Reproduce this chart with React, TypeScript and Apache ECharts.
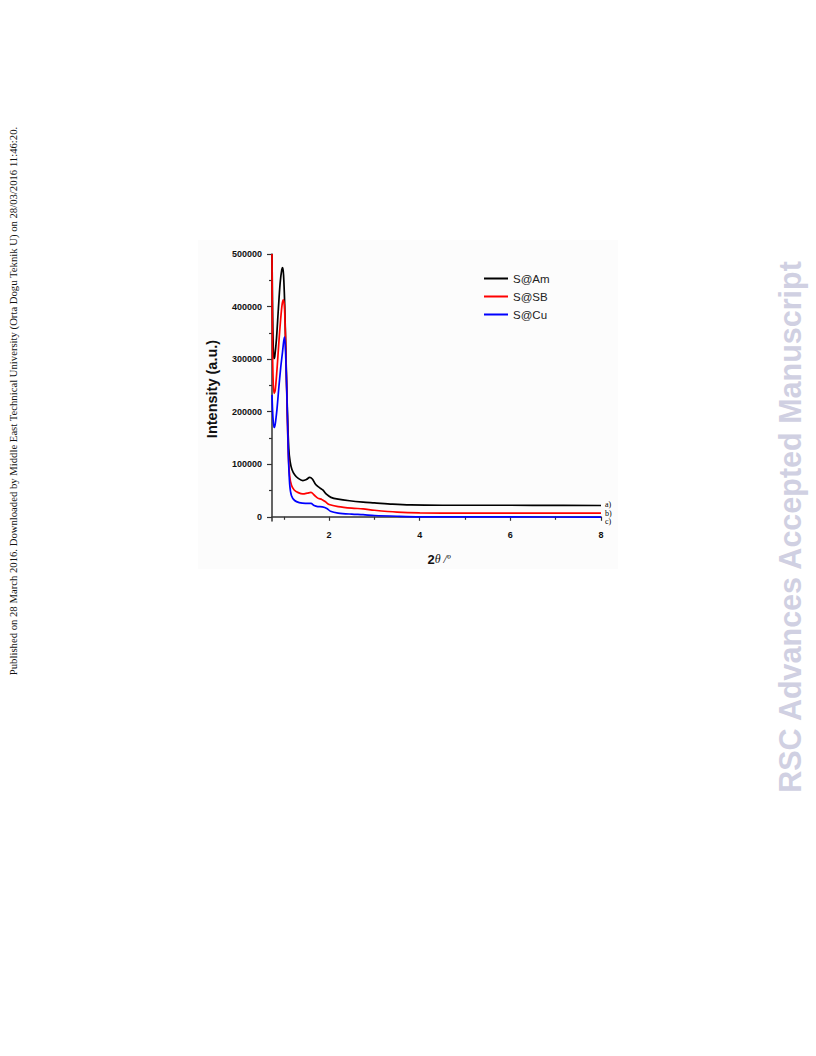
import React, { useEffect, useRef } from "react";
import * as echarts from "echarts";

const seriesNames = ["S@Am", "S@SB", "S@Cu"];
const endTags = ["a)", "b)", "c)"];

const amData: [number, number][] = [
  [0.74, 500000], [0.755, 380000], [0.77, 315000], [0.785, 301000], [0.80, 304000],
  [0.84, 340000], [0.88, 395000], [0.92, 445000], [0.955, 470000], [0.975, 474000],
  [0.995, 460000], [1.02, 405000], [1.05, 300000], [1.08, 200000], [1.11, 130000],
  [1.14, 105000], [1.18, 90000], [1.24, 80000], [1.32, 73000], [1.42, 69000],
  [1.5, 71000], [1.57, 75000], [1.63, 72000], [1.7, 62000], [1.78, 56000],
  [1.86, 51000], [1.94, 43000], [2.04, 37000], [2.2, 33500], [2.45, 30500],
  [2.75, 28000], [3.0, 26500], [3.4, 24000], [3.8, 22500], [4.5, 22000],
  [5.5, 22000], [6.5, 21800], [8.0, 21500],
];

const sbData: [number, number][] = [
  [0.74, 500000], [0.75, 330000], [0.765, 260000], [0.785, 235000], [0.81, 240000],
  [0.85, 280000], [0.89, 330000], [0.93, 375000], [0.965, 405000], [0.99, 413000],
  [1.015, 400000], [1.04, 330000], [1.07, 220000], [1.10, 120000], [1.13, 78000],
  [1.17, 60000], [1.23, 51000], [1.32, 46000], [1.42, 43500], [1.52, 45000],
  [1.6, 46500], [1.67, 41500], [1.75, 35500], [1.84, 33000], [1.92, 28500],
  [2.0, 23500], [2.2, 19500], [2.5, 16500], [2.75, 15000], [3.0, 12500],
  [3.5, 9000], [4.0, 7500], [5.0, 7000], [6.0, 7000], [8.0, 7000],
];

const cuData: [number, number][] = [
  [0.74, 232000], [0.76, 190000], [0.785, 170000], [0.81, 176000], [0.85, 205000],
  [0.89, 245000], [0.93, 282000], [0.97, 312000], [1.0, 335000], [1.02, 342000],
  [1.045, 300000], [1.075, 210000], [1.10, 120000], [1.13, 62000], [1.17, 40000],
  [1.24, 31000], [1.34, 27000], [1.48, 25500], [1.6, 25500], [1.67, 21500],
  [1.75, 19500], [1.85, 19000], [1.95, 16000], [2.03, 10500], [2.2, 7000],
  [2.5, 5000], [2.75, 4000], [3.0, 2500], [3.5, 1000], [4.0, 0], [6.0, -300],
  [8.0, -500],
];

const colors = ["#000000", "#ff0000", "#0000ff"];
const xLabelTicks = [2, 4, 6, 8];
const xMinorTicks = [1, 3, 5, 7];
const yLabelTicks = [0, 100000, 200000, 300000, 400000, 500000];
const yMinorTicks = [50000, 150000, 250000, 350000, 450000];

export default function App() {
  const ref = useRef<HTMLDivElement>(null);
  useEffect(() => {
    if (!ref.current) return;
    const chart = echarts.init(ref.current, null, { renderer: "svg" });
    const datas = [amData, sbData, cuData];
    const axisLine = { show: true, lineStyle: { color: "#333", width: 1.5 } };
    chart.setOption({
      animation: false,
      backgroundColor: "#ffffff",
      grid: { left: 272, top: 254, width: 329, height: 267, containLabel: false },
      legend: {
        data: seriesNames,
        orient: "vertical",
        left: 484,
        top: 272,
        padding: 0,
        icon: "rect",
        itemWidth: 24,
        itemHeight: 2,
        itemGap: 5,
        textStyle: { fontFamily: "Liberation Sans, Arial", fontSize: 11.5, color: "#222", lineHeight: 13 },
      },
      xAxis: [
        {
          type: "value",
          min: 0.74,
          max: 8,
          axisLine,
          splitLine: { show: false },
          axisTick: { show: true, customValues: xLabelTicks, length: 4, lineStyle: { color: "#333", width: 1.2 } },
          axisLabel: {
            customValues: xLabelTicks,
            fontFamily: "Liberation Sans, Arial",
            fontWeight: "bold",
            fontSize: 9,
            color: "#111",
            margin: 9,
          },
        },
        {
          type: "value",
          min: 0.74,
          max: 8,
          position: "bottom",
          axisLine: { show: false },
          splitLine: { show: false },
          axisTick: { show: true, customValues: xMinorTicks, length: 3, lineStyle: { color: "#333", width: 1.2 } },
          axisLabel: { show: false },
        },
      ],
      yAxis: [
        {
          type: "value",
          min: -8000,
          max: 500000,
          axisLine,
          splitLine: { show: false },
          axisTick: { show: true, customValues: yLabelTicks, length: 5, lineStyle: { color: "#333", width: 1.2 } },
          axisLabel: {
            customValues: yLabelTicks,
            formatter: (v: number) => String(v),
            fontFamily: "Liberation Sans, Arial",
            fontWeight: "bold",
            fontSize: 9,
            color: "#111",
            margin: 10,
          },
        },
        {
          type: "value",
          min: -8000,
          max: 500000,
          position: "left",
          axisLine: { show: false },
          splitLine: { show: false },
          axisTick: { show: true, customValues: yMinorTicks, length: 3, lineStyle: { color: "#333", width: 1.2 } },
          axisLabel: { show: false },
        },
      ],
      series: datas.map((d, i) => ({
        name: seriesNames[i],
        type: "line",
        data: d,
        xAxisIndex: 0,
        yAxisIndex: 0,
        symbol: "none",
        smooth: 0.3,
        clip: true,
        lineStyle: { color: colors[i], width: 1.7 },
        itemStyle: { color: colors[i] },
        endLabel: {
          show: true,
          formatter: endTags[i],
          fontFamily: "Liberation Serif, Times New Roman",
          fontSize: 8,
          lineHeight: 7,
          color: "#000",
          distance: 4,
          offset: i === 2 ? [0, 4] : i === 0 ? [0, -1] : [0, 0],
        },
      })),
      graphic: [
        {
          type: "rect",
          z: -10,
          shape: { x: 198, y: 240, width: 420, height: 329 },
          style: { fill: "#fcfcfc" },
          silent: true,
        },
        {
          type: "text",
          x: 212,
          y: 389,
          rotation: Math.PI / 2,
          style: {
            text: "Intensity (a.u.)",
            fontFamily: "Liberation Sans, Arial",
            fontWeight: "bold",
            fontSize: 14.5,
            fill: "#111",
            align: "center",
            verticalAlign: "middle",
          },
        },
        {
          type: "text",
          x: 439,
          y: 559,
          style: {
            text: "{b|2}{i|θ /º}",
            align: "center",
            verticalAlign: "middle",
            rich: {
              b: { fontFamily: "Liberation Sans, Arial", fontWeight: "bold", fontSize: 13, fill: "#111" },
              i: { fontFamily: "Liberation Serif, Times New Roman", fontStyle: "italic", fontSize: 12, fill: "#111" },
            },
          },
        },
        {
          type: "text",
          x: 13,
          y: 401,
          rotation: Math.PI / 2,
          style: {
            text: "Published on 28 March 2016. Downloaded by Middle East Technical University (Orta Dogu Teknik U) on 28/03/2016 11:46:20.",
            fontFamily: "Liberation Serif, Times New Roman",
            fontSize: 10.7,
            fill: "#111",
            align: "center",
            verticalAlign: "middle",
          },
        },
        {
          type: "text",
          x: 790,
          y: 527,
          rotation: Math.PI / 2,
          style: {
            text: "RSC Advances Accepted Manuscript",
            fontFamily: "Liberation Sans, Arial",
            fontWeight: "bold",
            fontSize: 30.5,
            fill: "#d0d0e2",
            align: "center",
            verticalAlign: "middle",
          },
        },
      ],
    });
    return () => chart.dispose();
  }, []);
  return (
    <div
      ref={ref}
      style={{ position: "absolute", left: 0, top: 0, width: 816, height: 1056 }}
    />
  );
}
